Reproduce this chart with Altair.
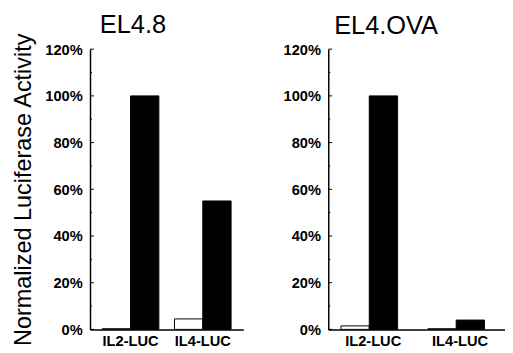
import altair as alt
import pandas as pd

constructs = ["IL2-LUC", "IL4-LUC"]
conditions = ["unstimulated", "stimulated"]
el48_open = [0.3, 4.5]
el48_filled = [100, 55]
ova_open = [1.5, 0.3]
ova_filled = [100, 4]
major_ticks = [0, 20, 40, 60, 80, 100, 120]
minor_ticks = [10, 30, 50, 70, 90, 110]

FONT = "Liberation Sans"


def table(open_vals, filled_vals):
    rows = []
    for c, o, f in zip(constructs, open_vals, filled_vals):
        rows.append({"construct": c, "condition": conditions[0], "value": o})
        rows.append({"construct": c, "condition": conditions[1], "value": f})
    return pd.DataFrame(rows)


def panel(df, title, width, pin, pout, ytitle, title_dx, title_offset):
    yscale = alt.Scale(domain=[0, 120], nice=False)
    yaxis_kw = dict(values=major_ticks, labelExpr="datum.value + '%'", ticks=False,
                    grid=False, domainColor="black", domainWidth=1.5,
                    labelFont=FONT, labelFontWeight="bold", labelFontSize=15,
                    labelColor="black", labelPadding=8)
    if ytitle:
        yaxis_kw.update(title=ytitle, titleFont=FONT, titleFontSize=24,
                        titleFontWeight="normal", titleColor="black", titlePadding=10)
    else:
        yaxis_kw.update(title=None)
    yaxis = alt.Axis(**yaxis_kw)
    bars = alt.Chart(df).mark_bar(stroke="black", strokeWidth=1).encode(
        x=alt.X("construct:N",
                scale=alt.Scale(domain=constructs, paddingInner=pin, paddingOuter=pout),
                axis=alt.Axis(labelAngle=0, ticks=False, domainColor="black", domainWidth=1.5,
                              labelFont=FONT, labelFontSize=15, labelFontWeight="bold",
                              labelColor="black", labelPadding=5, title=None)),
        xOffset=alt.XOffset("condition:N",
                            scale=alt.Scale(domain=conditions, paddingInner=0, paddingOuter=0)),
        y=alt.Y("value:Q", scale=yscale, axis=yaxis),
        color=alt.Color("condition:N", scale=alt.Scale(domain=conditions, range=["white", "black"]),
                        legend=None),
    )
    major = alt.Chart(pd.DataFrame({"value": major_ticks})).mark_rule(
        color="black", strokeWidth=1).encode(
        y=alt.Y("value:Q", scale=yscale), x=alt.value(0), x2=alt.value(4))
    minor = alt.Chart(pd.DataFrame({"value": minor_ticks})).mark_rule(
        color="black", strokeWidth=1).encode(
        y=alt.Y("value:Q", scale=yscale), x=alt.value(0), x2=alt.value(2))
    return alt.layer(bars, major, minor).properties(
        width=width, height=287,
        title=alt.TitleParams(text=title, font=FONT, fontSize=26, fontWeight="normal",
                              color="black", anchor="start", frame="group", dx=title_dx,
                              offset=title_offset),
    )


left = panel(table(el48_open, el48_filled), "EL4.8", 157, 0.216, 0.169,
             "Normalized Luciferase Activity", 10, -6)
right = panel(table(ova_open, ova_filled), "EL4.OVA", 181, 0.258, 0.146, None, 6, 4)

chart = alt.hconcat(left, right, spacing=40).properties(
    padding={"left": 3, "top": 0, "right": 0, "bottom": 0}
).configure_view(stroke=None)

chart.save("out.html", embed_options={"renderer": "svg", "actions": False})
